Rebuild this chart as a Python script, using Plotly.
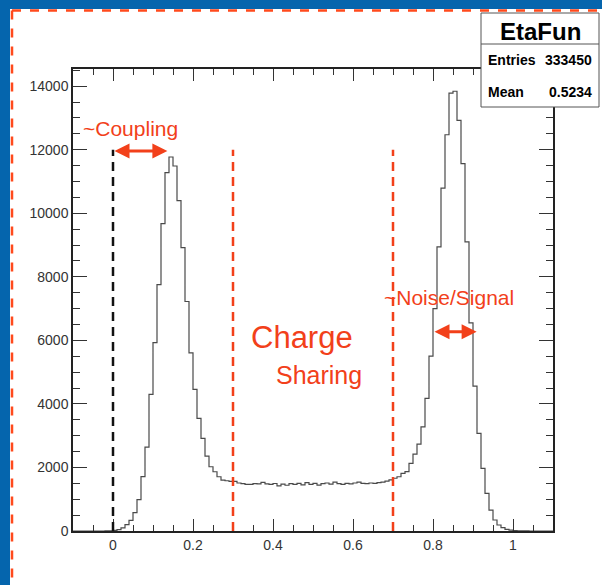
import plotly.graph_objects as go

# ---- histogram "EtaFun": 120 bins of width 0.01 between -0.1 and 1.1 ----
bin_low = -0.1
bin_width = 0.01

counts_below_zero = [0, 0, 0, 0, 0, 0, 0, 0, 2, 5]            # -0.10 .. -0.01
counts_coupling_peak = [20, 45, 100, 200, 335, 580, 990, 1710, 2640, 4300,
                        5930, 7757, 9676, 11280, 11770, 11487, 10400, 8920, 7223, 5607,
                        4455, 3543, 2915, 2358, 2022, 1865, 1708, 1604, 1582, 1560]  # 0.00 .. 0.29
counts_plateau = [1560, 1510, 1490, 1465, 1470, 1490, 1480, 1530, 1480, 1470,
                  1495, 1420, 1475, 1440, 1490, 1470, 1500, 1450, 1520, 1470,
                  1500, 1445, 1490, 1510, 1475, 1540, 1490, 1470, 1500, 1480,
                  1510, 1540, 1500, 1490, 1510, 1500, 1520, 1540, 1570, 1610]      # 0.30 .. 0.69
counts_signal_peak = [1660, 1708, 1813, 1866, 2128, 2421, 2736, 3280, 4173, 5503,
                      7000, 8940, 10790, 12470, 13780, 13840, 12925, 11560, 9097, 6550,
                      4560, 3072, 1972, 1185, 660, 346, 189, 105, 52, 30,
                      14, 6, 3, 1, 0, 0, 0, 0, 0, 0]                           # 0.70 .. 1.09

x_tick_vals = [0, 0.2, 0.4, 0.6, 0.8, 1.0]
x_tick_text = ["0", "0.2", "0.4", "0.6", "0.8", "1"]
y_tick_vals = [0, 2000, 4000, 6000, 8000, 10000, 12000, 14000]
y_tick_text = ["0", "2000", "4000", "6000", "8000", "10000", "12000", "14000"]

stats_title = "EtaFun"
stats_rows = [("Entries", "333450"), ("Mean", "0.5234")]

# annotation geometry (data units)
region_edges = [0.0, 0.3, 0.7]
region_colors = ["#111111", "#F2401A", "#F2401A"]
marker_top = 12000
coupling_arrow = (0.0, 0.136, 11960)
noise_arrow = (0.80, 0.909, 6270)

RED = "#F2401A"
BLUE = "#0565AD"
FONT = "Liberation Sans, Arial, Helvetica, sans-serif"

counts = counts_below_zero + counts_coupling_peak + counts_plateau + counts_signal_peak
edges = [round(bin_low + i * bin_width, 4) for i in range(len(counts) + 1)]
step_y = counts + [counts[-1]]

W, H = 602, 585
ML, MR, MT, MB = 73, 49, 69, 54
PW, PH = W - ML - MR, H - MT - MB


def px(xp):
    return (xp - ML) / PW


def py(yp):
    return (H - MB - yp) / PH


fig = go.Figure()
fig.add_trace(go.Scatter(
    x=edges, y=step_y, mode="lines", line_shape="hv",
    line=dict(color="#4a4a4a", width=1.2), hoverinfo="skip", showlegend=False,
))

shapes = []
# slide frame: blue band on top and left with an orange dashed rule
shapes.append(dict(type="rect", xref="paper", yref="paper", x0=px(0), x1=px(W), y0=py(9), y1=py(0),
                   line=dict(width=0), fillcolor=BLUE, layer="below"))
shapes.append(dict(type="rect", xref="paper", yref="paper", x0=px(0), x1=px(10), y0=py(H), y1=py(0),
                   line=dict(width=0), fillcolor=BLUE, layer="below"))
shapes.append(dict(type="line", xref="paper", yref="paper", x0=px(12), x1=px(W), y0=py(10.5), y1=py(10.5),
                   line=dict(color="#FF4A1C", width=2.5, dash="9px,9px")))
shapes.append(dict(type="line", xref="paper", yref="paper", x0=px(12), x1=px(12), y0=py(10.5), y1=py(H),
                   line=dict(color="#FF4A1C", width=2.5, dash="9px,9px")))

# vertical dashed region boundaries
for xe, col in zip(region_edges, region_colors):
    shapes.append(dict(type="line", xref="x", yref="y", x0=xe, x1=xe, y0=0, y1=marker_top,
                       line=dict(color=col, width=2.5, dash="9px,6px")))

# statistics box
bx0, bx1, by0, by1, bsep = 481, 599, 13, 107, 44
shapes.append(dict(type="rect", xref="paper", yref="paper", x0=px(bx0), x1=px(bx1), y0=py(by1), y1=py(by0),
                   line=dict(color="#555555", width=1), fillcolor="white"))
shapes.append(dict(type="line", xref="paper", yref="paper", x0=px(bx0), x1=px(bx1), y0=py(bsep), y1=py(bsep),
                   line=dict(color="#555555", width=1)))

annotations = []
annotations.append(dict(xref="paper", yref="paper", x=px((bx0 + bx1) / 2), y=py(31), text="<b>%s</b>" % stats_title,
                        showarrow=False, xanchor="center", yanchor="middle",
                        font=dict(family=FONT, size=24, color="black")))
for (label, value), yrow in zip(stats_rows, [60, 92]):
    annotations.append(dict(xref="paper", yref="paper", x=px(486), y=py(yrow), text="<b>%s</b>" % label,
                            showarrow=False, xanchor="left", yanchor="middle",
                            font=dict(family=FONT, size=14, color="black")))
    annotations.append(dict(xref="paper", yref="paper", x=px(594), y=py(yrow), text="<b>%s</b>" % value,
                            showarrow=False, xanchor="right", yanchor="middle",
                            font=dict(family=FONT, size=14, color="black")))

# double-headed arrows
for (xa, xb, ya) in [coupling_arrow, noise_arrow]:
    annotations.append(dict(xref="x", yref="y", axref="x", ayref="y", x=xb, y=ya, ax=xa, ay=ya, text="",
                            showarrow=True, arrowside="end+start", arrowhead=2, startarrowhead=2,
                            arrowsize=1.0, startarrowsize=1.0, arrowwidth=3, arrowcolor=RED))

# text labels
annotations.append(dict(xref="x", yref="y", x=-0.079, y=12680, text="~Coupling", showarrow=False,
                        xanchor="left", yanchor="middle", font=dict(family=FONT, size=21, color=RED)))
annotations.append(dict(xref="x", yref="y", x=0.672, y=7360, text="~Noise/Signal", showarrow=False,
                        xanchor="left", yanchor="middle", font=dict(family=FONT, size=21, color=RED)))
annotations.append(dict(xref="x", yref="y", x=0.4725, y=6080, text="Charge", showarrow=False,
                        xanchor="center", yanchor="middle", font=dict(family=FONT, size=31, color=RED)))
annotations.append(dict(xref="x", yref="y", x=0.515, y=4900, text="Sharing", showarrow=False,
                        xanchor="center", yanchor="middle", font=dict(family=FONT, size=25, color=RED)))

axis_common = dict(
    showgrid=False, zeroline=False, showline=True, linecolor="#222222", linewidth=1.5,
    mirror="allticks", ticks="inside", tickcolor="#333333", tickwidth=1,
    tickfont=dict(family=FONT, size=14, color="#333333"),
)

fig.update_layout(
    width=W, height=H, autosize=False,
    margin=dict(l=ML, r=MR, t=MT, b=MB, pad=0),
    paper_bgcolor="white", plot_bgcolor="white",
    shapes=shapes, annotations=annotations, showlegend=False,
    xaxis=dict(range=[-0.1, 1.1], tickvals=x_tick_vals, ticktext=x_tick_text, ticklen=12,
               minor=dict(dtick=0.05, tick0=0, ticks="inside", ticklen=6, tickcolor="#333333"),
               **axis_common),
    yaxis=dict(range=[0, 14540], tickvals=y_tick_vals, ticktext=y_tick_text, ticklen=14,
               minor=dict(dtick=500, tick0=0, ticks="inside", ticklen=7, tickcolor="#333333"),
               **axis_common),
)

fig.write_html("out.html")
